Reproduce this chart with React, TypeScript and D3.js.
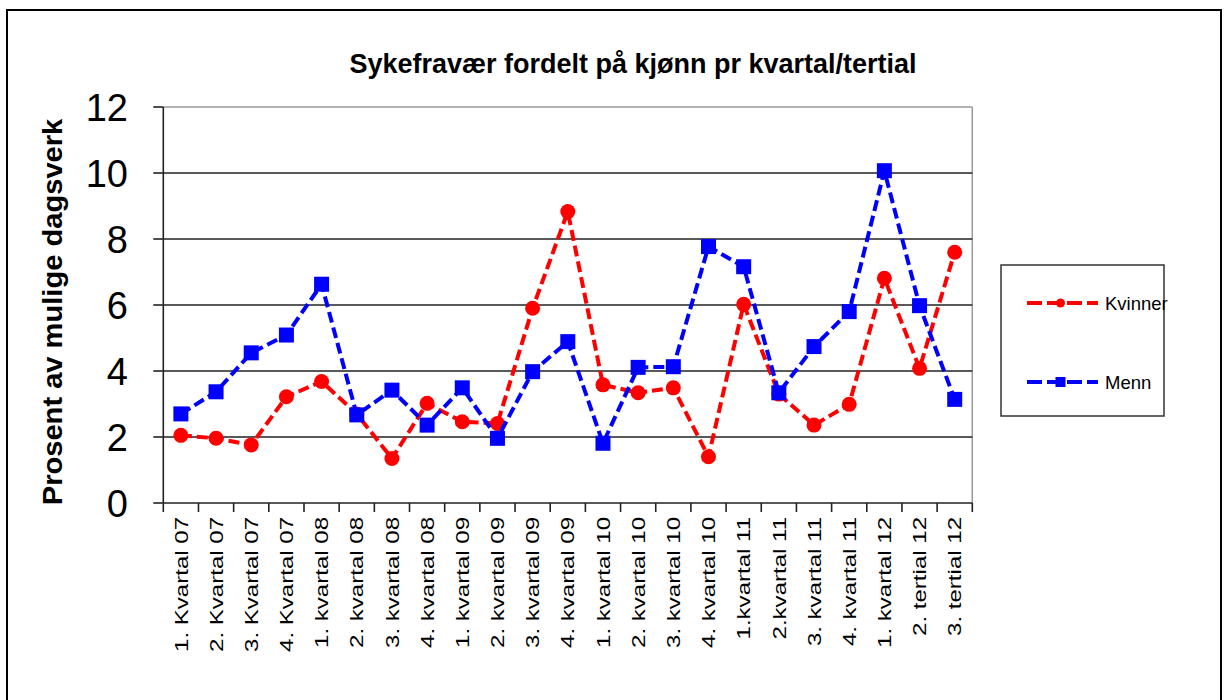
import React from "react";
import * as d3 from "d3";

const categories = [
  "1. Kvartal 07", "2. Kvartal 07", "3. Kvartal 07", "4. Kvartal 07",
  "1. kvartal 08", "2. kvartal 08", "3. kvartal 08", "4. kvartal 08",
  "1. kvartal 09", "2. kvartal 09", "3. kvartal 09", "4. kvartal 09",
  "1. kvartal 10", "2. kvartal 10", "3. kvartal 10", "4. kvartal 10",
  "1.kvartal 11", "2.kvartal 11", "3. kvartal 11", "4. kvartal 11",
  "1. kvartal 12", "2. tertial 12", "3. tertial 12",
];

const kvinner = [2.05, 1.96, 1.76, 3.22, 3.68, 2.7, 1.35, 3.02, 2.46, 2.41, 5.9, 8.83, 3.58, 3.34, 3.49, 1.4, 6.02, 3.3, 2.36, 2.99, 6.81, 4.08, 7.6];
const menn = [2.7, 3.37, 4.55, 5.09, 6.63, 2.67, 3.42, 2.36, 3.49, 1.96, 3.98, 4.89, 1.81, 4.11, 4.13, 7.77, 7.16, 3.34, 4.74, 5.8, 10.07, 5.98, 3.14];

const yTicks = [0, 2, 4, 6, 8, 10, 12];

const title = "Sykefravær fordelt på kjønn pr kvartal/tertial";
const yTitle = "Prosent av mulige dagsverk";
const seriesNames = ["Kvinner", "Menn"];

const FONT = "'Liberation Sans', Arial, sans-serif";
const RED = "#FF0000";
const BLUE = "#0000FF";

export default function App() {
  const W = 1227, H = 700;
  const left = 163.3, right = 972.3, top = 107, bottom = 503;

  const x = d3.scaleBand<string>().domain(categories).range([left, right]).paddingInner(0).paddingOuter(0);
  const y = d3.scaleLinear().domain([0, 12]).range([bottom, top]);
  const cx = (i: number) => (x(categories[i]) as number) + x.bandwidth() / 2;

  const line = d3.line<number>().x((_, i) => cx(i)).y((d) => y(d));

  const tickXs = categories.map((c) => x(c) as number).concat([right]);

  const legendX1 = 1027, legendX2 = 1098;
  const legendYs = [303, 382];

  return (
    <svg width={W} height={H} style={{ position: "absolute", left: 0, top: 0, background: "#fff" }}>
      <rect x={0} y={0} width={W} height={H} fill="#fff" />
      {/* outer frame */}
      <rect x={7} y={10} width={1214} height={720} fill="none" stroke="#000" strokeWidth={2} />

      {/* title */}
      <text x={633} y={73} textAnchor="middle" fontFamily={FONT} fontWeight="bold" fontSize={27} fill="#000">
        {title}
      </text>

      {/* plot border (top/right) */}
      <line x1={left} x2={right} y1={top} y2={top} stroke="#999" strokeWidth={1.5} />
      <line x1={right} x2={right} y1={top} y2={bottom} stroke="#999" strokeWidth={1.5} />

      {/* gridlines */}
      {yTicks.filter((t) => t !== 0 && t !== 12).map((t) => (
        <line key={"g" + t} x1={left} x2={right} y1={y(t)} y2={y(t)} stroke="#222" strokeWidth={1.6} />
      ))}

      {/* axes */}
      <line x1={left} x2={left} y1={top} y2={bottom} stroke="#222" strokeWidth={1.6} />
      <line x1={left} x2={right} y1={bottom} y2={bottom} stroke="#222" strokeWidth={1.6} />

      {/* y ticks and labels */}
      {yTicks.map((t) => (
        <g key={"yt" + t}>
          <line x1={left - 10} x2={left} y1={y(t)} y2={y(t)} stroke="#222" strokeWidth={1.6} />
          <text x={128} y={y(t)} dy="0.36em" textAnchor="end" fontFamily={FONT} fontSize={38} fill="#000">
            {t}
          </text>
        </g>
      ))}

      {/* x ticks */}
      {tickXs.map((tx, i) => (
        <line key={"xt" + i} x1={tx} x2={tx} y1={bottom} y2={bottom + 9} stroke="#222" strokeWidth={1.6} />
      ))}

      {/* x labels */}
      {categories.map((c, i) => (
        <text
          key={"xl" + i}
          transform={`translate(${cx(i)},${517}) rotate(-90) scale(1.3,1)`}
          textAnchor="end"
          dy="0.36em"
          fontFamily={FONT}
          fontSize={18.5}
          fill="#000"
        >
          {c}
        </text>
      ))}

      {/* y title */}
      <text
        transform={`translate(52,${312}) rotate(-90) scale(1.04,1)`}
        textAnchor="middle"
        dy="0.36em"
        fontFamily={FONT}
        fontWeight="bold"
        fontSize={28}
        fill="#000"
      >
        {yTitle}
      </text>

      {/* series lines */}
      <path d={line(kvinner) as string} fill="none" stroke={RED} strokeWidth={4} strokeDasharray="11,5" />
      {kvinner.map((v, i) => (
        <circle key={"k" + i} cx={cx(i)} cy={y(v)} r={7.5} fill={RED} />
      ))}
      <path d={line(menn) as string} fill="none" stroke={BLUE} strokeWidth={4} strokeDasharray="11,5" />
      {menn.map((v, i) => (
        <rect key={"m" + i} x={cx(i) - 7.5} y={y(v) - 7.5} width={15} height={15} fill={BLUE} />
      ))}

      {/* legend */}
      <rect x={1001} y={265} width={163} height={151} fill="#fff" stroke="#333" strokeWidth={1.5} />
      {seriesNames.map((name, i) => (
        <g key={"lg" + i}>
          <line x1={legendX1} x2={legendX2} y1={legendYs[i]} y2={legendYs[i]} stroke={i === 0 ? RED : BLUE} strokeWidth={4} strokeDasharray="15,5" />
          {i === 0 ? (
            <circle cx={(legendX1 + legendX2) / 2 - 2} cy={legendYs[i]} r={4.5} fill={RED} />
          ) : (
            <rect x={(legendX1 + legendX2) / 2 - 7} y={legendYs[i] - 5} width={10} height={10} fill={BLUE} />
          )}
          <text x={1105} y={legendYs[i]} dy="0.36em" fontFamily={FONT} fontSize={18.5} fill="#000">
            {name}
          </text>
        </g>
      ))}
    </svg>
  );
}
